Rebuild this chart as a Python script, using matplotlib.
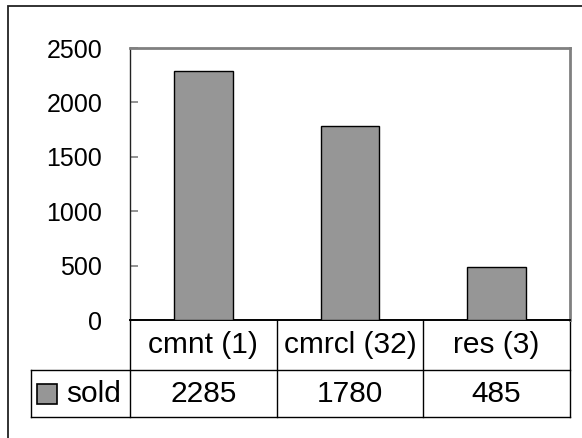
import matplotlib
matplotlib.use('Agg')
import matplotlib.pyplot as plt
from matplotlib.patches import Rectangle
from matplotlib.lines import Line2D

categories = ['cmnt (1)', 'cmrcl (32)', 'res (3)']
sold = [2285, 1780, 485]
series_name = 'sold'
y_ticks = [0, 500, 1000, 1500, 2000, 2500]

W, H = 582, 438
plt.rcParams['font.family'] = ['Liberation Sans', 'DejaVu Sans']

fig = plt.figure(figsize=(W / 100, H / 100), dpi=100)

def px(x0, y0, x1, y1):
    # pixel box (top-left origin) -> figure fraction rect
    return [x0 / W, 1 - y1 / H, (x1 - x0) / W, (y1 - y0) / H]

# outer chart frame (cut off on right and bottom)
fig.patches.append(Rectangle((8 / W, -0.2), 2.0, 1 - 6 / H + 0.2,
                             transform=fig.transFigure, fill=False,
                             edgecolor='#222222', linewidth=1.3))

ax = fig.add_axes(px(130, 48, 570, 320))
bar_color = '#969696'
ax.bar(range(len(categories)), sold, width=0.4, color=bar_color,
       edgecolor='black', linewidth=1.0, zorder=3)

ax.set_xlim(-0.5, len(categories) - 0.5)
ax.set_ylim(0, 2500)
ax.set_yticks(y_ticks)
ax.set_yticklabels([str(t) for t in y_ticks], fontsize=18)
ax.tick_params(axis='y', direction='in', length=6, width=1.2,
               color='#808080', pad=20)
ax.set_xticks([])

for side in ['top', 'right']:
    ax.spines[side].set_color('#808080')
    ax.spines[side].set_linewidth(2)
ax.spines['left'].set_color('#222222')
ax.spines['bottom'].set_color('black')
ax.spines['left'].set_linewidth(1)
ax.spines['bottom'].set_linewidth(1.4)

# data table below the axis
ph = 272.0
pw = 440.0
r1 = -(370 - 320) / ph
r2 = -(417 - 320) / ph
leg_left = -(130 - 31) / pw
tfs = 21.5

def tline(xs, ys):
    ax.add_line(Line2D(xs, ys, transform=ax.transAxes, color='black',
                       linewidth=1, clip_on=False))

tline([leg_left, 1], [r1, r1])
tline([leg_left, 1], [r2, r2])
tline([leg_left, leg_left], [r1, r2])
n = len(categories)
for i in range(n + 1):
    tline([i / n, i / n], [0, r2])

for i, (cat, val) in enumerate(zip(categories, sold)):
    xc = (i + 0.5) / n
    ax.text(xc, r1 / 2, cat, transform=ax.transAxes, ha='center',
            va='center', fontsize=tfs)
    ax.text(xc, (r1 + r2) / 2, str(val), transform=ax.transAxes,
            ha='center', va='center', fontsize=tfs)

# legend key inside table
sw = 20 / pw
shh = 20 / ph
sx = leg_left + 6 / pw
sy = (r1 + r2) / 2 - shh / 2
ax.add_patch(Rectangle((sx, sy), sw, shh, transform=ax.transAxes,
                       facecolor=bar_color, edgecolor='black', linewidth=1.2,
                       clip_on=False))
ax.text(leg_left + 35 / pw, (r1 + r2) / 2, series_name,
        transform=ax.transAxes, ha='left', va='center', fontsize=tfs)

fig.savefig('out.png', dpi=100)
